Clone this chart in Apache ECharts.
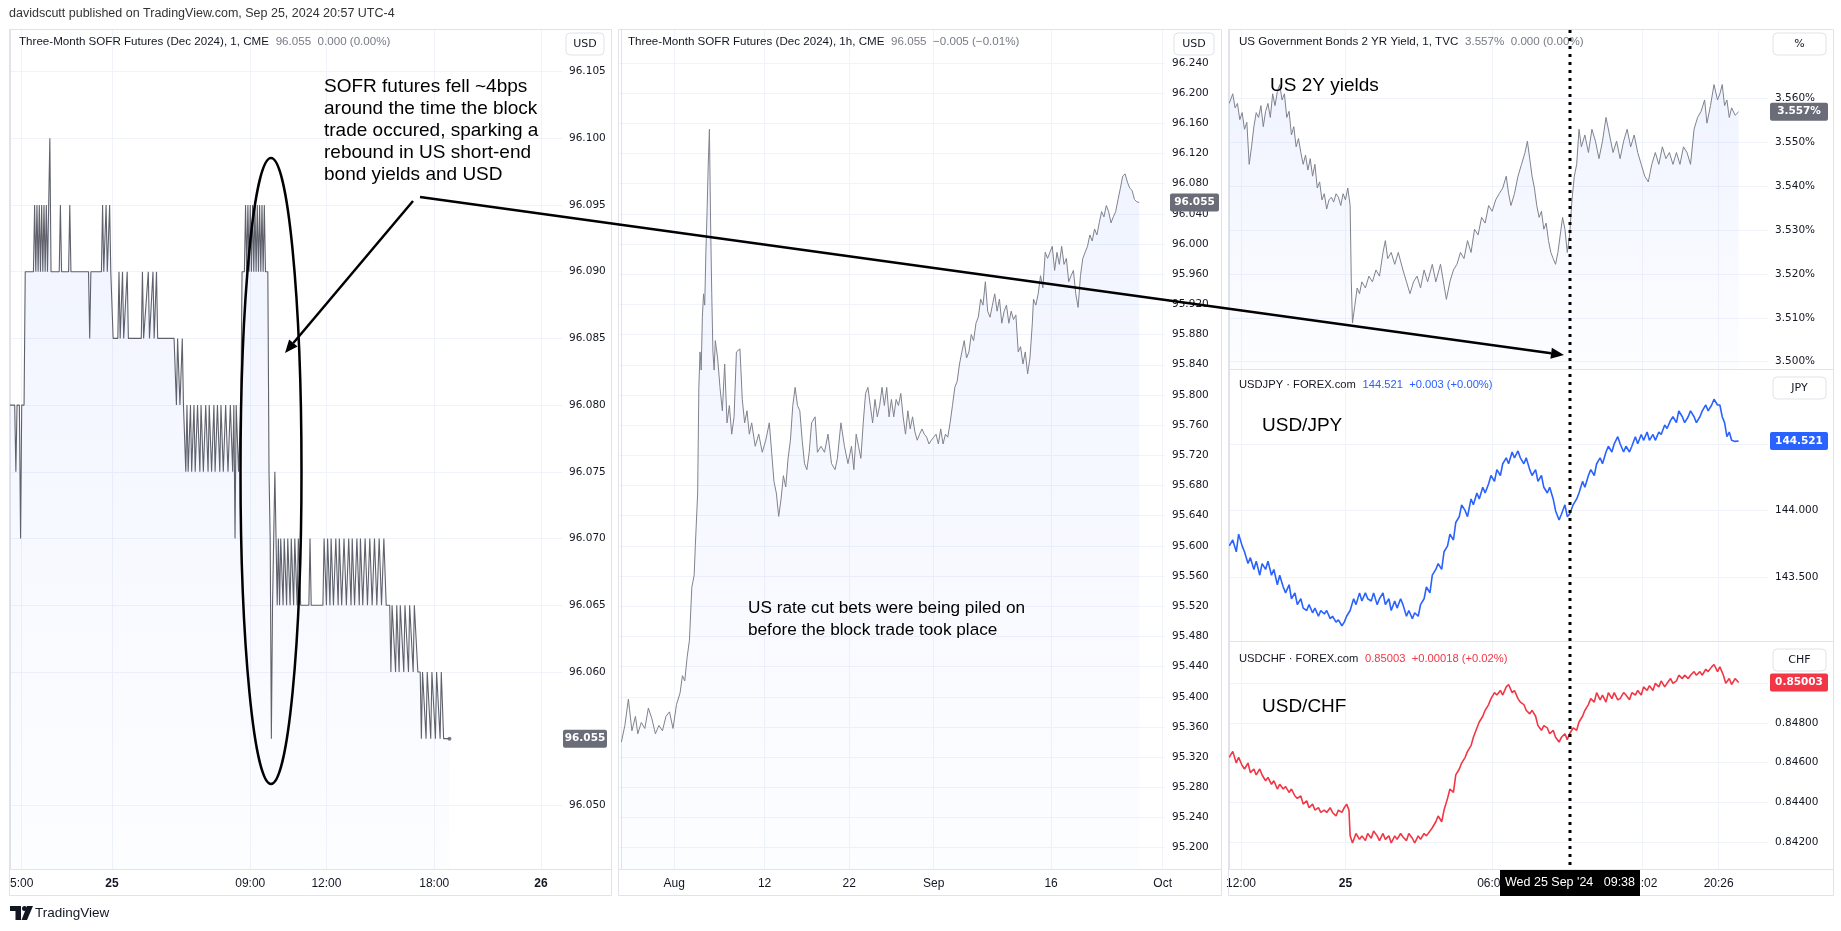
<!DOCTYPE html>
<html><head><meta charset="utf-8">
<script src="https://cdn.jsdelivr.net/npm/echarts@6.0.0/dist/echarts.min.js"></script>
<style>html,body{margin:0;padding:0;background:#fff}#c{width:1841px;height:931px}</style>
</head><body><div id="c"></div>
<script>
// ---------- DATA ----------
// Panel 1: Three-Month SOFR Futures (Dec 2024), 1-minute, [bar index, price]
const sofrMinute = [[0,96.080],[4,96.080],[5,96.075],[6,96.080],[8,96.080],[9,96.070],[10,96.080],[12,96.080],[13,96.090],[20,96.090],[21,96.095],[22,96.090],[23,96.095],[24,96.090],[25,96.095],[26,96.090],[27,96.095],[28,96.090],[29,96.095],[30,96.090],[31,96.095],[32,96.090],[33,96.095],[34,96.100],[35,96.090],[42,96.090],[43,96.095],[44,96.090],[50,96.090],[51,96.095],[52,96.090],[67,96.090],[68,96.085],[69,96.090],[78,96.090],[79,96.095],[80,96.090],[82,96.095],[83,96.090],[85,96.095],[86,96.090],[88,96.085],[92,96.085],[93,96.090],[94,96.085],[96,96.090],[97,96.085],[100,96.090],[101,96.085],[112,96.085],[113,96.090],[114,96.085],[118,96.090],[119,96.085],[122,96.090],[123,96.085],[125,96.090],[126,96.085],[140,96.085],[142,96.080],[143,96.085],[145,96.080],[147,96.085],[148,96.080],[150,96.075],[151,96.080],[152,96.075],[154,96.080],[155,96.075],[157,96.080],[158,96.075],[160,96.080],[162,96.075],[163,96.080],[165,96.075],[167,96.080],[169,96.075],[170,96.080],[172,96.075],[174,96.080],[175,96.075],[177,96.080],[179,96.075],[180,96.080],[182,96.075],[184,96.080],[186,96.075],[188,96.080],[190,96.075],[191,96.080],[192,96.070],[193,96.080],[195,96.075],[197,96.080],[198,96.090],[200,96.090],[201,96.095],[202,96.090],[203,96.095],[204,96.090],[205,96.095],[206,96.090],[207,96.095],[208,96.090],[209,96.095],[210,96.090],[211,96.095],[212,96.090],[213,96.095],[214,96.090],[215,96.095],[216,96.090],[217,96.095],[218,96.090],[220,96.090],[221,96.075],[222,96.070],[223,96.055],[224,96.065],[225,96.070],[226,96.075],[227,96.070],[228,96.065],[229,96.070],[230,96.065],[231,96.070],[233,96.065],[234,96.070],[236,96.065],[237,96.070],[239,96.065],[240,96.070],[242,96.065],[243,96.070],[245,96.065],[246,96.070],[248,96.065],[255,96.065],[256,96.070],[257,96.065],[267,96.065],[268,96.070],[270,96.065],[271,96.070],[273,96.065],[274,96.070],[276,96.065],[278,96.070],[280,96.065],[281,96.070],[283,96.065],[285,96.070],[287,96.065],[289,96.070],[291,96.065],[292,96.070],[294,96.065],[296,96.070],[298,96.065],[299,96.070],[301,96.065],[303,96.070],[305,96.065],[307,96.070],[309,96.065],[311,96.070],[313,96.065],[315,96.070],[317,96.065],[319,96.070],[321,96.065],[324,96.065],[325,96.060],[326,96.065],[329,96.060],[330,96.065],[332,96.060],[333,96.065],[336,96.060],[337,96.065],[340,96.060],[341,96.065],[344,96.060],[345,96.065],[348,96.060],[350,96.060],[351,96.055],[352,96.060],[355,96.055],[356,96.060],[359,96.055],[360,96.060],[363,96.055],[364,96.060],[367,96.055],[368,96.060],[370,96.055],[375,96.055]];
const sofrMinuteTicks = [[10,'5:00'],[87,'25',1],[205,'09:00'],[270,'12:00'],[362,'18:00'],[453,'26',1]];
const sofrMinuteLevels = [96.050,96.060,96.065,96.070,96.075,96.080,96.085,96.090,96.095,96.100,96.105];

// Panel 2: Three-Month SOFR Futures (Dec 2024), 1h, [trading-day index, price]
const sofrHourly = [[0.0,95.340],[0.3,95.362],[0.6,95.397],[0.7,95.383],[0.9,95.355],[1.2,95.374],[1.4,95.351],[1.7,95.366],[2.0,95.358],[2.3,95.385],[2.6,95.371],[2.9,95.351],[3.2,95.362],[3.5,95.355],[3.8,95.374],[4.1,95.380],[4.4,95.358],[4.7,95.390],[5.0,95.405],[5.2,95.428],[5.4,95.421],[5.6,95.452],[5.8,95.475],[6.0,95.545],[6.2,95.561],[6.3,95.600],[6.5,95.670],[6.6,95.810],[6.7,95.857],[6.8,95.833],[6.9,95.903],[7.0,95.934],[7.1,95.919],[7.2,95.989],[7.3,96.043],[7.4,96.106],[7.5,96.152],[7.6,96.028],[7.7,95.934],[7.8,95.857],[7.9,95.833],[8.0,95.872],[8.2,95.849],[8.4,95.810],[8.6,95.779],[8.8,95.841],[9.0,95.763],[9.2,95.786],[9.4,95.748],[9.6,95.771],[9.8,95.857],[10.1,95.861],[10.3,95.794],[10.5,95.763],[10.7,95.779],[10.9,95.748],[11.1,95.763],[11.4,95.732],[11.7,95.748],[12.0,95.724],[12.3,95.740],[12.6,95.763],[12.8,95.724],[13.0,95.685],[13.2,95.670],[13.4,95.639],[13.6,95.662],[13.8,95.693],[14.0,95.678],[14.2,95.716],[14.4,95.740],[14.6,95.786],[14.8,95.810],[15.0,95.786],[15.2,95.779],[15.4,95.740],[15.6,95.709],[15.8,95.701],[16.0,95.724],[16.2,95.763],[16.5,95.771],[16.7,95.724],[17.0,95.732],[17.3,95.724],[17.6,95.748],[17.9,95.709],[18.2,95.701],[18.4,95.716],[18.7,95.763],[19.0,95.732],[19.3,95.709],[19.6,95.732],[19.8,95.701],[20.0,95.748],[20.2,95.732],[20.4,95.716],[20.6,95.763],[20.8,95.802],[21.0,95.810],[21.2,95.786],[21.4,95.763],[21.6,95.794],[21.8,95.771],[22.0,95.786],[22.2,95.810],[22.4,95.786],[22.6,95.810],[22.8,95.771],[23.0,95.794],[23.2,95.771],[23.4,95.794],[23.6,95.786],[23.8,95.802],[24.0,95.771],[24.2,95.748],[24.4,95.779],[24.6,95.755],[24.8,95.771],[25.0,95.751],[25.2,95.740],[25.4,95.748],[25.6,95.755],[25.8,95.748],[26.0,95.744],[26.2,95.735],[26.4,95.740],[26.6,95.744],[26.8,95.748],[27.0,95.735],[27.2,95.755],[27.4,95.735],[27.6,95.748],[27.8,95.744],[28.0,95.763],[28.2,95.786],[28.4,95.810],[28.6,95.818],[28.8,95.841],[29.0,95.857],[29.2,95.872],[29.4,95.849],[29.6,95.857],[29.8,95.880],[30.0,95.872],[30.2,95.895],[30.4,95.903],[30.6,95.927],[30.8,95.919],[31.0,95.950],[31.2,95.911],[31.4,95.903],[31.6,95.919],[31.8,95.934],[32.0,95.911],[32.2,95.927],[32.4,95.895],[32.6,95.911],[32.8,95.919],[33.0,95.895],[33.2,95.911],[33.4,95.900],[33.6,95.906],[33.8,95.857],[34.0,95.864],[34.2,95.841],[34.4,95.857],[34.6,95.828],[34.8,95.849],[35.0,95.895],[35.1,95.927],[35.3,95.919],[35.5,95.934],[35.7,95.958],[35.9,95.942],[36.1,95.989],[36.3,95.981],[36.5,95.989],[36.7,95.997],[36.9,95.965],[37.1,95.989],[37.3,95.973],[37.5,95.997],[37.7,95.973],[37.9,95.981],[38.1,95.950],[38.3,95.958],[38.5,95.965],[38.7,95.934],[38.9,95.916],[39.1,95.958],[39.3,95.981],[39.5,95.989],[39.7,95.997],[39.9,96.012],[40.1,96.004],[40.3,96.020],[40.5,96.012],[40.7,96.028],[40.9,96.043],[41.1,96.036],[41.3,96.051],[41.5,96.043],[41.7,96.028],[41.9,96.036],[42.1,96.043],[42.3,96.059],[42.5,96.074],[42.7,96.090],[42.9,96.093],[43.1,96.082],[43.3,96.074],[43.5,96.071],[43.7,96.059],[43.9,96.056],[44.1,96.055]];
const sofrHourlyTicks = [[4.5,'Aug'],[12.2,'12'],[19.4,'22'],[26.6,'Sep'],[36.6,'16'],[46.1,'Oct']];
const sofrHourlyLevels = [95.200,95.240,95.280,95.320,95.360,95.400,95.440,95.480,95.520,95.560,95.600,95.640,95.680,95.720,95.760,95.800,95.840,95.880,95.920,95.960,96.000,96.040,96.080,96.120,96.160,96.200,96.240];

// Panel 3: 1-minute, [bar index, value]
const us2y = [[0,3.5589],[3,3.5611],[5,3.5579],[7,3.5589],[9,3.5552],[11,3.5568],[13,3.5530],[15,3.5546],[17,3.5450],[19,3.5490],[21,3.5536],[23,3.5568],[25,3.5557],[27,3.5584],[29,3.5536],[31,3.5571],[33,3.5589],[35,3.5557],[37,3.5611],[39,3.5584],[41,3.5616],[43,3.5632],[45,3.5597],[47,3.5611],[49,3.5557],[51,3.5571],[53,3.5517],[55,3.5536],[57,3.5490],[59,3.5509],[61,3.5477],[63,3.5450],[65,3.5471],[67,3.5437],[69,3.5463],[71,3.5423],[73,3.5450],[75,3.5396],[77,3.5410],[79,3.5369],[81,3.5383],[83,3.5348],[85,3.5369],[87,3.5375],[89,3.5364],[91,3.5383],[93,3.5375],[95,3.5356],[97,3.5383],[99,3.5369],[101,3.5396],[103,3.5356],[104,3.5182],[105,3.5088],[107,3.5128],[109,3.5168],[111,3.5155],[113,3.5182],[116,3.5168],[119,3.5195],[122,3.5182],[125,3.5209],[128,3.5195],[131,3.5249],[133,3.5276],[135,3.5235],[138,3.5249],[141,3.5222],[144,3.5249],[148,3.5209],[151,3.5182],[154,3.5155],[157,3.5182],[160,3.5195],[163,3.5168],[166,3.5209],[169,3.5182],[173,3.5222],[176,3.5182],[180,3.5222],[185,3.5142],[188,3.5182],[191,3.5209],[194,3.5222],[197,3.5249],[200,3.5235],[203,3.5276],[206,3.5249],[209,3.5302],[212,3.5289],[215,3.5329],[218,3.5316],[221,3.5356],[224,3.5343],[227,3.5369],[230,3.5383],[233,3.5396],[236,3.5423],[238,3.5383],[240,3.5356],[243,3.5383],[246,3.5423],[249,3.5450],[252,3.5477],[254,3.5503],[256,3.5463],[258,3.5423],[260,3.5396],[262,3.5356],[264,3.5329],[266,3.5343],[268,3.5302],[270,3.5316],[272,3.5276],[274,3.5249],[276,3.5235],[278,3.5222],[280,3.5249],[282,3.5289],[284,3.5329],[286,3.5302],[288,3.5249],[290,3.5289],[292,3.5369],[294,3.5423],[296,3.5450],[298,3.5530],[300,3.5490],[303,3.5517],[306,3.5477],[309,3.5530],[312,3.5503],[315,3.5463],[318,3.5503],[321,3.5557],[324,3.5517],[327,3.5477],[330,3.5503],[333,3.5463],[336,3.5503],[339,3.5530],[342,3.5490],[345,3.5517],[348,3.5477],[351,3.5450],[354,3.5423],[357,3.5410],[360,3.5450],[363,3.5477],[366,3.5450],[369,3.5490],[372,3.5463],[375,3.5477],[378,3.5450],[381,3.5477],[384,3.5450],[387,3.5490],[390,3.5477],[393,3.5450],[396,3.5530],[399,3.5557],[402,3.5571],[405,3.5597],[407,3.5544],[410,3.5584],[413,3.5632],[416,3.5597],[418,3.5611],[420,3.5632],[422,3.5584],[424,3.5597],[426,3.5557],[428,3.5579],[431,3.5562],[434,3.5570]];
const usdjpy = [[0,143.737],[3,143.781],[6,143.693],[8,143.825],[11,143.737],[13,143.693],[16,143.605],[18,143.649],[21,143.561],[23,143.623],[26,143.518],[28,143.605],[31,143.561],[33,143.623],[36,143.518],[38,143.561],[41,143.447],[43,143.518],[46,143.430],[48,143.386],[51,143.447],[53,143.342],[56,143.386],[58,143.298],[61,143.342],[63,143.272],[66,143.254],[68,143.298],[71,143.237],[73,143.272],[76,143.211],[78,143.254],[81,143.228],[83,143.254],[86,143.193],[88,143.211],[91,143.167],[93,143.184],[96,143.140],[98,143.167],[100,143.211],[103,143.254],[106,143.342],[108,143.298],[111,143.386],[113,143.325],[116,143.386],[118,143.342],[121,143.325],[123,143.386],[126,143.298],[128,143.342],[131,143.386],[133,143.298],[136,143.342],[138,143.254],[141,143.325],[143,143.272],[146,143.342],[148,143.298],[151,143.211],[153,143.254],[156,143.193],[158,143.237],[161,143.211],[163,143.298],[166,143.342],[168,143.430],[171,143.386],[173,143.518],[176,143.561],[178,143.605],[181,143.561],[183,143.693],[186,143.737],[188,143.825],[191,143.781],[193,143.912],[196,143.956],[198,144.044],[201,144.000],[203,143.956],[206,144.088],[208,144.044],[211,144.132],[213,144.088],[216,144.175],[218,144.132],[221,144.202],[223,144.263],[226,144.219],[228,144.307],[231,144.263],[233,144.351],[236,144.395],[238,144.351],[241,144.439],[243,144.395],[246,144.447],[248,144.395],[251,144.351],[253,144.395],[256,144.307],[258,144.263],[261,144.307],[263,144.219],[266,144.263],[268,144.175],[271,144.132],[273,144.175],[276,144.088],[278,144.000],[281,143.930],[283,143.974],[286,144.044],[288,143.956],[290,143.974],[293,144.044],[296,144.088],[298,144.132],[301,144.219],[303,144.175],[306,144.263],[308,144.307],[311,144.263],[313,144.351],[316,144.395],[318,144.351],[321,144.439],[323,144.482],[326,144.439],[328,144.500],[331,144.553],[333,144.500],[336,144.439],[338,144.482],[341,144.439],[343,144.482],[346,144.553],[348,144.500],[351,144.570],[353,144.526],[356,144.588],[358,144.526],[361,144.570],[363,144.526],[366,144.588],[368,144.570],[371,144.640],[373,144.614],[376,144.675],[378,144.702],[381,144.658],[383,144.746],[386,144.702],[388,144.658],[391,144.702],[393,144.746],[396,144.702],[398,144.658],[401,144.702],[403,144.746],[406,144.790],[408,144.746],[411,144.790],[413,144.833],[416,144.790],[418,144.790],[420,144.702],[422,144.658],[424,144.553],[426,144.588],[428,144.526],[431,144.518],[434,144.521]];
const usdchf = [[0,0.84626],[3,0.84656],[6,0.84597],[8,0.84626],[11,0.84585],[13,0.84567],[16,0.84597],[18,0.84549],[21,0.84567],[23,0.84537],[26,0.84567],[28,0.84537],[31,0.84508],[33,0.84525],[36,0.84490],[38,0.84508],[41,0.84466],[43,0.84490],[46,0.84466],[48,0.84478],[51,0.84449],[53,0.84466],[56,0.84431],[58,0.84419],[61,0.84431],[63,0.84390],[66,0.84407],[68,0.84372],[71,0.84390],[73,0.84360],[76,0.84372],[78,0.84348],[81,0.84360],[83,0.84348],[86,0.84372],[88,0.84348],[91,0.84330],[93,0.84360],[96,0.84348],[98,0.84372],[100,0.84390],[102,0.84360],[103,0.84230],[105,0.84194],[108,0.84242],[111,0.84212],[113,0.84230],[116,0.84206],[118,0.84242],[121,0.84218],[123,0.84254],[126,0.84230],[128,0.84206],[131,0.84242],[133,0.84212],[136,0.84230],[138,0.84194],[141,0.84230],[143,0.84212],[146,0.84242],[148,0.84224],[151,0.84206],[153,0.84242],[156,0.84218],[158,0.84194],[161,0.84230],[163,0.84212],[166,0.84242],[168,0.84230],[171,0.84254],[173,0.84271],[176,0.84301],[178,0.84330],[181,0.84301],[183,0.84360],[186,0.84419],[188,0.84466],[191,0.84449],[193,0.84537],[196,0.84567],[198,0.84597],[201,0.84626],[203,0.84656],[206,0.84685],[208,0.84727],[211,0.84774],[213,0.84804],[216,0.84833],[218,0.84863],[221,0.84892],[223,0.84922],[226,0.84952],[228,0.84940],[231,0.84963],[233,0.84940],[236,0.84981],[238,0.84993],[241,0.84952],[243,0.84963],[246,0.84922],[248,0.84904],[251,0.84892],[253,0.84863],[256,0.84845],[258,0.84863],[261,0.84833],[263,0.84786],[266,0.84762],[268,0.84786],[271,0.84774],[273,0.84745],[276,0.84762],[278,0.84727],[281,0.84703],[283,0.84727],[286,0.84745],[288,0.84715],[290,0.84745],[293,0.84774],[296,0.84762],[298,0.84804],[301,0.84833],[303,0.84863],[306,0.84892],[308,0.84922],[311,0.84904],[313,0.84952],[316,0.84916],[318,0.84940],[321,0.84904],[323,0.84952],[326,0.84922],[328,0.84952],[331,0.84916],[333,0.84922],[336,0.84952],[338,0.84940],[341,0.84916],[343,0.84952],[346,0.84940],[348,0.84963],[351,0.84940],[353,0.84981],[356,0.84963],[358,0.84987],[361,0.84963],[363,0.84999],[366,0.84981],[368,0.85011],[371,0.84981],[373,0.84999],[376,0.85023],[378,0.84999],[381,0.85011],[383,0.85040],[386,0.85023],[388,0.85040],[391,0.85023],[393,0.85040],[396,0.85058],[398,0.85040],[401,0.85058],[403,0.85040],[406,0.85070],[408,0.85058],[411,0.85082],[413,0.85094],[416,0.85058],[418,0.85082],[421,0.85040],[423,0.84999],[426,0.85023],[428,0.84993],[431,0.85023],[434,0.85003]];
const rightTicks = [[10,'12:00'],[99,'25',1],[224,'06:00'],[352,'15:02'],[417,'20:26']];
const us2yLevels = [3.500,3.510,3.520,3.530,3.540,3.550,3.560];
const usdjpyLevels = [143.500,144.000,144.500];
const usdchfLevels = [0.84200,0.84400,0.84600,0.84800,0.85000];
const crosshairBar = 290;
const crosshairLabel = "Wed 25 Sep '24   09:38";

// ---------- CHART ----------
const chart = echarts.init(document.getElementById('c'));
const FONT = "'Liberation Sans', Arial, sans-serif";
const SFONT = "'DejaVu Sans', Verdana, sans-serif";
const GRID_LINE = '#f0f3fa';
const SEP = '#e0e3eb';
const TXT = '#131722';

const grids = [
  {left:10, top:29, width:552, height:840},
  {left:619, top:29, width:546, height:840},
  {left:1229, top:29, width:539, height:340.5},
  {left:1229, top:369.5, width:539, height:271.5},
  {left:1229, top:641, width:539, height:228}
];

function findTick(ticks, v){ for (const t of ticks){ if (Math.abs(t[0]-v) < 1e-6) return t; } return null; }

function mkX(gi, min, max, ticks, showLabel){
  const vals = ticks.map(t=>t[0]);
  return {type:'value', gridIndex:gi, min:min, max:max,
    axisLine:{show:false}, axisTick:{show:false, customValues:vals},
    axisLabel:{show:showLabel, customValues:vals, margin:9, color:TXT, fontSize:12, fontFamily:FONT,
      formatter:function(v){ const t=findTick(ticks,v); if(!t) return ''; return t[2] ? '{b|'+t[1]+'}' : t[1]; },
      rich:{b:{fontWeight:'bold', color:TXT, fontSize:12, fontFamily:FONT}}},
    splitLine:{show:true, lineStyle:{color:GRID_LINE, width:1}}};
}
function mkY(gi, min, max, vals, fmt){
  return {type:'value', gridIndex:gi, position:'right', min:min, max:max,
    axisLine:{show:true, lineStyle:{color:SEP}}, axisTick:{show:false, customValues:vals},
    axisLabel:{customValues:vals, margin:7, color:TXT, fontSize:10.5, fontFamily:SFONT, formatter:fmt},
    splitLine:{show:true, lineStyle:{color:GRID_LINE, width:1}}};
}
const area = {origin:'start', color:new echarts.graphic.LinearGradient(0,0,0,1,[{offset:0,color:'rgba(41,98,255,0.10)'},{offset:1,color:'rgba(41,98,255,0.015)'}])};
function mkLine(gi, data, color, withArea, w){
  const s = {type:'line', xAxisIndex:gi, yAxisIndex:gi, data:data, showSymbol:false, symbol:'none',
    lineStyle:{color:color, width:w||1}, itemStyle:{color:color}, animation:false, z:3};
  if (withArea) s.areaStyle = area;
  return s;
}

const last1 = sofrMinute[sofrMinute.length-1];

chart.setOption({
  animation:false,
  backgroundColor:'#ffffff',
  grid: grids,
  xAxis:[
    mkX(0, 0, 471, sofrMinuteTicks, true),
    mkX(1, -0.2, 46.3, sofrHourlyTicks, true),
    mkX(2, -0.2, 459, rightTicks, false),
    mkX(3, -0.2, 459, rightTicks, false),
    mkX(4, -0.2, 459, rightTicks, true)
  ],
  yAxis:[
    mkY(0, 96.04523, 96.10819, sofrMinuteLevels, v=>v.toFixed(3)),
    mkY(1, 95.17177, 96.28494, sofrHourlyLevels, v=>v.toFixed(3)),
    mkY(2, 3.49820, 3.57588, us2yLevels, v=>v.toFixed(3)+'%'),
    mkY(3, 143.0262, 145.0553, usdjpyLevels, v=>v.toFixed(3)),
    mkY(4, 0.840629, 0.852124, usdchfLevels, v=>v.toFixed(5))
  ],
  series:[
    mkLine(0, sofrMinute, '#5f626c', true, 1.1),
    {type:'scatter', xAxisIndex:0, yAxisIndex:0, data:[last1], symbolSize:4, itemStyle:{color:'#5f626c'}, z:4},
    mkLine(1, sofrHourly, '#80838d', true, 1),
    mkLine(2, us2y, '#80838d', true, 1),
    mkLine(3, usdjpy, '#2962ff', false, 1.6),
    mkLine(4, usdchf, '#f23645', false, 1.6)
  ]
});

// ---------- OVERLAYS ----------
function px(gi, x, y){ return chart.convertToPixel({gridIndex:gi}, [x, y]); }
const g = [];
function txt(x, y, text, o){ o=o||{}; g.push({type:'text', x:x, y:y, z:o.z||60, style:{text:text, fill:o.fill||TXT, fontSize:o.size||12, fontFamily:o.font||FONT, fontWeight:o.weight||'normal', align:o.align||'left', verticalAlign:o.va||'middle', lineHeight:o.lh, rich:o.rich}}); }
function rect(x, y, w, h, fill, stroke, r, z){ g.push({type:'rect', z:z||50, shape:{x:x,y:y,width:w,height:h,r:r||0}, style:{fill:fill, stroke:stroke||null, lineWidth:1}}); }
function hline(x1, x2, y, color, z){ g.push({type:'line', z:z||40, shape:{x1:x1,y1:y,x2:x2,y2:y}, style:{stroke:color, lineWidth:1}}); }

// panel frames
rect(9.5, 29.5, 602, 866, null, SEP, 0, 40);
rect(618.5, 29.5, 603, 866, null, SEP, 0, 40);
rect(1228.5, 29.5, 605, 866, null, SEP, 0, 40);
hline(10, 611, 869.5, SEP);
hline(619, 1221, 869.5, SEP);
hline(1229, 1833, 869.5, SEP);
hline(1229, 1833, 369.5, SEP);
hline(1229, 1833, 641.5, SEP);

// top header
txt(9, 14, 'davidscutt published on TradingView.com, Sep 25, 2024 20:57 UTC-4', {size:12.5, fill:'#333'});

// panel titles
function title(x, y, a, b, bcolor, fs){
  g.push({type:'text', x:x, y:y, z:60, style:{text:'{a|'+a+'}  {b|'+b+'}', verticalAlign:'middle',
    rich:{a:{fill:TXT, fontSize:fs, fontFamily:FONT}, b:{fill:bcolor, fontSize:fs, fontFamily:FONT}}}});
}
title(19, 42, 'Three-Month SOFR Futures (Dec 2024), 1, CME', '96.055  0.000 (0.00%)', '#787b86', 11.6);
title(628, 42, 'Three-Month SOFR Futures (Dec 2024), 1h, CME', '96.055  \u22120.005 (\u22120.01%)', '#787b86', 11.6);
title(1239, 42, 'US Government Bonds 2 YR Yield, 1, TVC', '3.557%  0.000 (0.00%)', '#787b86', 11.6);
title(1239, 385, 'USDJPY \u00b7 FOREX.com', '144.521  +0.003 (+0.00%)', '#2962ff', 11.2);
title(1239, 659, 'USDCHF \u00b7 FOREX.com', '0.85003  +0.00018 (+0.02%)', '#f23645', 11.2);

// last-value badges
function badge(x1, x2, yc, text, bg){
  rect(x1, yc-9, x2-x1, 18, bg, null, 2, 70);
  txt((x1+x2)/2, yc, text, {fill:'#fff', size:10.5, font:SFONT, weight:'bold', align:'center', z:71});
}
badge(563, 607, px(0,0,last1[1])[1], last1[1].toFixed(3), '#6a6d78');
badge(1170, 1219, px(1,0,sofrHourly[sofrHourly.length-1][1])[1], sofrHourly[sofrHourly.length-1][1].toFixed(3), '#6a6d78');
badge(1770, 1828, px(2,0,us2y[us2y.length-1][1])[1], us2y[us2y.length-1][1].toFixed(3)+'%', '#6a6d78');
badge(1770, 1828, px(3,0,usdjpy[usdjpy.length-1][1])[1], usdjpy[usdjpy.length-1][1].toFixed(3), '#2962ff');
badge(1770, 1828, px(4,0,usdchf[usdchf.length-1][1])[1], usdchf[usdchf.length-1][1].toFixed(5), '#f23645');

// unit boxes
function unitBox(x1, x2, y1, y2, text){
  rect(x1, y1, x2-x1, y2-y1, '#fff', SEP, 4, 80);
  txt((x1+x2)/2, (y1+y2)/2, text, {size:11, font:SFONT, align:'center', z:81});
}
unitBox(566, 604, 33, 55, 'USD');
unitBox(1174, 1214, 33, 55, 'USD');
unitBox(1773, 1826, 33, 55, '%');
unitBox(1773, 1826, 377, 399, 'JPY');
unitBox(1773, 1826, 649, 671, 'CHF');

// crosshair (dotted vertical line + time label)
const cx = Math.round(px(4, crosshairBar, 0.845)[0]);
g.push({type:'line', z:90, shape:{x1:cx, y1:30, x2:cx, y2:869}, style:{stroke:'#000', lineWidth:3, lineDash:[3,5]}});
rect(cx-70, 870, 140, 26, '#000', null, 0, 92);
txt(cx, 883, crosshairLabel, {fill:'#fff', size:12.5, align:'center', z:93});

// annotations
const AF = "'Liberation Sans', Arial, sans-serif";
txt(324, 76, 'SOFR futures fell ~4bps\naround the time the block\ntrade occured, sparking a\nrebound in US short-end\nbond yields and USD', {size:19, fill:'#000', font:AF, va:'top', lh:22, z:95});
txt(748, 597, 'US rate cut bets were being piled on\nbefore the block trade took place', {size:17.2, fill:'#000', font:AF, va:'top', lh:22, z:95});
txt(1270, 86, 'US 2Y yields', {size:19, fill:'#000', font:AF, z:95});
txt(1262, 426, 'USD/JPY', {size:19, fill:'#000', font:AF, z:95});
txt(1262, 707, 'USD/CHF', {size:19, fill:'#000', font:AF, z:95});

g.push({type:'ellipse', z:95, shape:{cx:271, cy:471, rx:30.5, ry:313}, style:{fill:null, stroke:'#000', lineWidth:2.5}});
function arrow(x1, y1, x2, y2){
  const a = Math.atan2(y2-y1, x2-x1), L = 13, W = 5.5;
  const bx = x2 - L*Math.cos(a), by = y2 - L*Math.sin(a);
  const nx = -Math.sin(a)*W, ny = Math.cos(a)*W;
  g.push({type:'line', z:95, shape:{x1:x1, y1:y1, x2:bx, y2:by}, style:{stroke:'#000', lineWidth:2.5}});
  g.push({type:'polygon', z:95, shape:{points:[[x2,y2],[bx+nx,by+ny],[bx-nx,by-ny]]}, style:{fill:'#000'}});
}
arrow(420, 197, 1564, 355);
arrow(413, 201, 285, 353);

// TradingView logo
g.push({type:'polygon', z:60, shape:{points:[[10,906],[21,906],[21,920],[15.5,920],[15.5,911],[10,911]]}, style:{fill:'#131722'}});
g.push({type:'circle', z:60, shape:{cx:24.5, cy:908.5, r:2.5}, style:{fill:'#131722'}});
g.push({type:'polygon', z:60, shape:{points:[[27,906],[33,906],[27,920],[21.5,920]]}, style:{fill:'#131722'}});
txt(35, 913, 'TradingView', {size:13.5, fill:TXT});

chart.setOption({graphic: g});
</script>
</body></html>
